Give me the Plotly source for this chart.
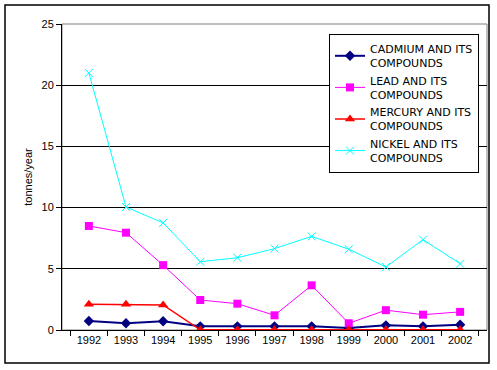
import plotly.graph_objects as go

years = ["1992", "1993", "1994", "1995", "1996", "1997", "1998", "1999", "2000", "2001", "2002"]
cadmium = [0.74, 0.55, 0.71, 0.3, 0.3, 0.3, 0.3, 0.16, 0.38, 0.3, 0.43]
lead = [8.5, 7.95, 5.3, 2.45, 2.15, 1.2, 3.65, 0.55, 1.62, 1.25, 1.48]
mercury = [2.1, 2.1, 2.05, 0.02, 0.02, 0.02, 0.02, 0.02, 0.02, 0.02, 0.02]
nickel = [21.0, 10.05, 8.75, 5.58, 5.9, 6.65, 7.65, 6.6, 5.15, 7.38, 5.42]
y_ticks = [0, 5, 10, 15, 20, 25]

fig = go.Figure()
fig.add_trace(go.Scatter(x=years, y=cadmium, name="CADMIUM AND ITS<br>COMPOUNDS", mode="lines+markers",
                         line=dict(color="#000080", width=2), marker=dict(symbol="diamond", size=8, color="#000080")))
fig.add_trace(go.Scatter(x=years, y=lead, name="LEAD AND ITS<br>COMPOUNDS", mode="lines+markers",
                         line=dict(color="#FF00FF", width=1), marker=dict(symbol="square", size=8, color="#FF00FF")))
fig.add_trace(go.Scatter(x=years, y=mercury, name="MERCURY AND ITS<br>COMPOUNDS", mode="lines+markers",
                         line=dict(color="#FF0000", width=1.5), marker=dict(symbol="triangle-up", size=9, color="#FF0000")))
fig.add_trace(go.Scatter(x=years, y=nickel, name="NICKEL AND ITS<br>COMPOUNDS", mode="lines+markers",
                         line=dict(color="#00FFFF", width=1), marker=dict(symbol="x-thin-open", size=8, color="#00FFFF", line=dict(width=1, color="#00FFFF"))))

L, R, T, B = 62, 487, 24, 330
PW, PH = R - L, B - T

fig.update_layout(
    width=497, height=370,
    margin=dict(l=L, r=497 - R, t=T, b=370 - B, autoexpand=False),
    paper_bgcolor="white", plot_bgcolor="white",
    font=dict(family="Liberation Sans, Arial, sans-serif", size=11, color="black"),
    showlegend=True,
    legend=dict(x=(479 - L) / PW, y=(B - 34) / PH, xanchor="right", yanchor="top", bgcolor="white",
                bordercolor="black", borderwidth=1,
                font=dict(size=11, family="DejaVu Sans, sans-serif"), tracegroupgap=0,
                itemwidth=30),
    xaxis=dict(type="category", showgrid=False, showline=True, linecolor="black", linewidth=1,
               ticks="outside", tickson="boundaries", ticklen=5, tickcolor="black", zeroline=False,
               automargin=False, tickfont=dict(size=11)),
    yaxis=dict(range=[0, 25], tickvals=y_ticks, showgrid=True, gridcolor="black", gridwidth=1,
               showline=True, linecolor="black", linewidth=1, ticks="outside", ticklen=5, tickcolor="black",
               zeroline=False, automargin=False, tickfont=dict(size=11),
               title=dict(text="tonnes/year", standoff=6, font=dict(size=11))),
    shapes=[
        dict(type="rect", xref="paper", yref="paper", x0=0, x1=1, y0=0, y1=1,
             line=dict(color="#808080", width=1), layer="below"),
        dict(type="rect", xref="paper", yref="paper", x0=(5 - L) / PW, x1=(489 - L) / PW,
             y0=(B - 363) / PH, y1=(B - 5) / PH,
             line=dict(color="black", width=1.5), layer="above"),
    ],
)

fig.write_html("out.html", config={"displayModeBar": False},
               post_script="document.body.style.margin='0';document.body.style.padding='0';")
